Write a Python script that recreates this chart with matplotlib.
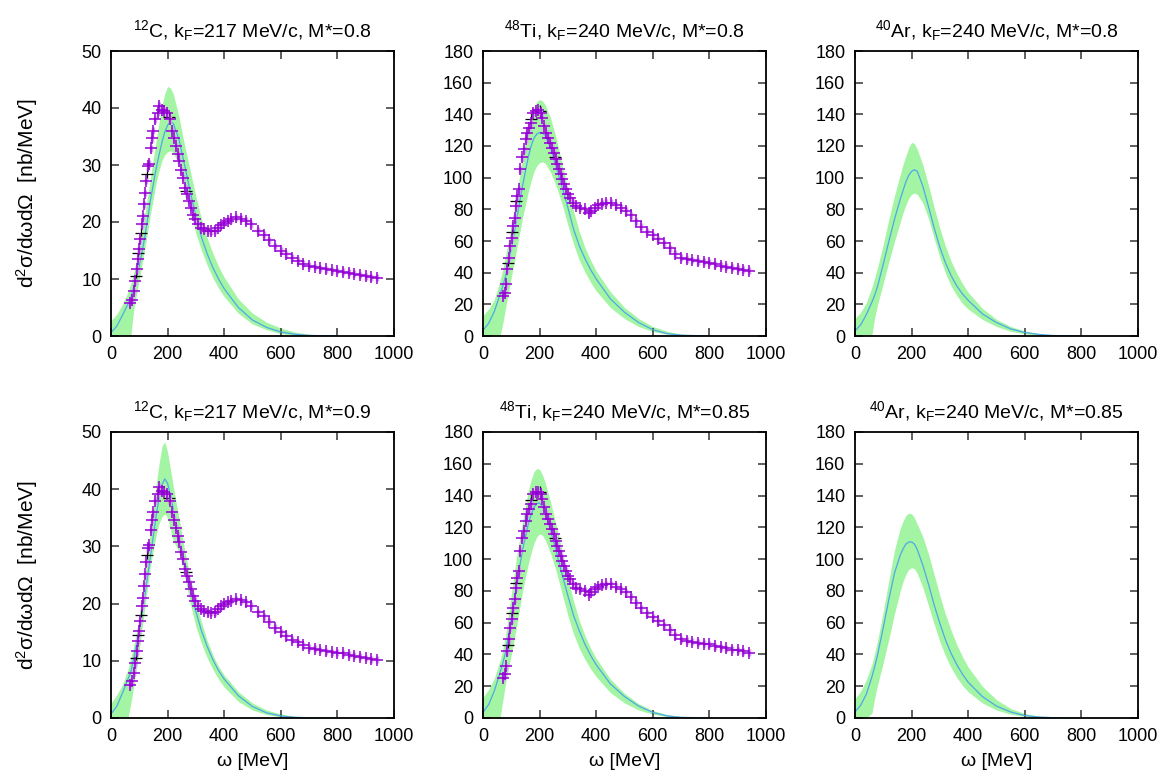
import matplotlib
matplotlib.use('Agg')
import matplotlib.pyplot as plt
import numpy as np

plt.rcParams['font.family'] = ['Liberation Sans', 'DejaVu Sans']
plt.rcParams['mathtext.fontset'] = 'custom'
plt.rcParams['mathtext.rm'] = 'Liberation Sans'
plt.rcParams['mathtext.it'] = 'Liberation Sans:italic'

# theory grid (MeV)
w_th = [0, 20, 40, 60, 70, 80, 100, 120, 140, 160, 170, 180, 190, 200, 210, 220, 240,
        260, 280, 300, 320, 340, 360, 380, 400, 450, 500, 550, 600, 650, 700, 800]

# 12C, M*=0.8
c08_mid = [0.6, 1.7, 3.6, 5.6, 6.7, 8.5, 12.3, 17.5, 24, 29.5, 31.8, 34, 35.8, 37, 37.5, 37.3, 34.5,
           30, 25.3, 21, 17.3, 14.4, 12, 10, 8.3, 5, 2.8, 1.5, 0.7, 0.3, 0.1, 0]
c08_hi = [2.7, 3.8, 5.5, 7.7, 9.2, 11, 15.5, 21.5, 28, 34.5, 37.5, 40.5, 42.5, 43.8, 43.5, 42.5, 38.5,
          33.5, 29, 24.5, 20.5, 17.2, 14.5, 12.2, 10.3, 6.5, 4, 2.4, 1.4, 0.7, 0.3, 0]
c08_lo = [0, 0, 0, 0, 0, 4.5, 10, 15.5, 21.5, 27, 29, 30.8, 31.8, 32.3, 32.5, 32.2, 30,
          26, 22.5, 18, 15, 12.4, 10.2, 8.4, 6.9, 4, 2.1, 1.1, 0.4, 0.15, 0.05, 0]

# 12C, M*=0.9
c09_mid = [0.7, 2.0, 4.3, 6.8, 8, 10.3, 15.3, 21.5, 28.5, 35.5, 38.5, 40.8, 41.8, 41, 39, 36.5, 31.5,
           26.8, 22.5, 18.6, 15.2, 12.5, 10.2, 8.3, 6.8, 3.9, 2.0, 0.9, 0.35, 0.12, 0.04, 0]
c09_hi = [2.6, 4, 5.8, 8.5, 10.5, 12.5, 17.5, 25, 33, 41, 44.5, 47.5, 48.3, 46.5, 43.5, 40.5, 35,
          29.5, 24.5, 20.5, 16.7, 13.5, 11, 9, 7.5, 4.6, 2.6, 1.4, 0.7, 0.3, 0.1, 0]
c09_lo = [0, 0, 0, 0, 2.5, 5.5, 12, 19.5, 26.8, 32, 34, 35.2, 35.7, 35, 33, 31, 29,
          25, 20, 16, 13, 10.5, 8.5, 6.8, 5.4, 2.9, 1.4, 0.6, 0.2, 0.05, 0, 0]

# 48Ti, M*=0.8
ti08_mid = [3.6, 8, 15.5, 26, 31.5, 38, 55, 75, 95, 113, 120, 125, 127.5, 128.5, 128.3, 126.5, 118,
            106, 94, 81, 67.5, 57, 49, 42, 36, 23.5, 15, 8.5, 4, 1.5, 0.5, 0]
ti08_hi = [13, 17, 23, 35, 42, 51, 70, 91, 112, 132, 139, 144.5, 148, 149.3, 148.5, 146, 137,
           124, 108, 93, 79, 66, 56, 48, 41, 28, 18, 11, 6, 3, 1.2, 0]
ti08_lo = [0, 0, 0, 0, 8, 18, 37, 56, 75, 91, 98, 104, 107.5, 109.5, 110, 109, 103,
           94, 83, 70, 58, 48, 40.5, 34, 28.5, 18, 11, 6, 2.8, 1.2, 0.4, 0]

# 48Ti, M*=0.85
ti085_mid = [3.5, 8.5, 17, 28.5, 34.5, 41.5, 62, 85, 106, 122, 128, 132.5, 135, 135.3, 133, 129, 117.5,
             104, 90, 77, 64.5, 55, 46.5, 39.5, 33.5, 21.5, 13.5, 7.5, 3.5, 1.3, 0.4, 0]
ti085_hi = [13, 18, 25, 36, 43, 52, 78, 103, 124, 143, 150, 155, 157, 156.5, 153, 148, 135,
            120.5, 104.5, 88, 73.5, 61.5, 52, 44, 37.5, 24.5, 15.5, 9, 4.7, 2.2, 0.9, 0]
ti085_lo = [0, 0, 0, 0, 11, 22, 40, 59, 80, 97, 104, 110, 114, 115.8, 115, 112, 103,
            91.5, 78, 64.5, 53, 44, 37, 31, 26, 16, 9.5, 5, 2.4, 1, 0.3, 0]

# 40Ar, M*=0.8
ar08_mid = [3.2, 7, 13.5, 21.5, 26, 31.5, 45.5, 60, 74, 86.5, 92, 97.5, 101.5, 104, 105, 104, 94.5,
            81.5, 68, 56, 46, 38, 31.5, 26.5, 22.5, 14, 8.5, 4.5, 2.2, 1, 0.3, 0]
ar08_hi = [11, 15, 21, 31, 37, 43.5, 58, 74, 89, 102, 108.5, 114, 119, 122.3, 121.5, 118, 108,
           95, 81, 68, 56.5, 47, 39.5, 33, 27.5, 17.5, 10.5, 6, 3.2, 1.5, 0.6, 0]
ar08_lo = [0, 0, 0, 1, 12, 20, 33.5, 47, 60, 72, 78, 83, 87, 89.5, 90.3, 89.5, 84,
           74, 61.5, 49.5, 39.5, 31.5, 25.5, 20.5, 17, 10.5, 6, 3, 1.3, 0.5, 0.1, 0]

# 40Ar, M*=0.85
ar085_mid = [3.8, 8, 15, 26, 32.5, 40, 57, 75, 91.5, 102.5, 106.5, 109.5, 110.7, 110.8, 109.5, 106, 96,
             84, 71, 59.5, 49, 40.5, 33.5, 27.5, 22.5, 13.5, 7.5, 3.8, 1.5, 0.6, 0.2, 0]
ar085_hi = [12, 17, 24, 34, 41, 49, 67, 87, 106, 119.5, 124, 127.5, 129, 128.5, 126, 122, 114,
            103, 90, 77, 65, 55, 46, 38.5, 32, 20, 11.5, 6, 2.8, 1.2, 0.4, 0]
ar085_lo = [0, 0, 0, 3, 13, 21, 35, 50, 66, 80, 86, 90.5, 93.5, 94.6, 94, 91, 82,
            70.5, 59, 48, 39, 31.5, 25.5, 20.5, 16.5, 9.5, 5, 2.4, 1, 0.3, 0.1, 0]

# experimental data 12C
c_w = [68, 73, 80, 85, 91, 94, 100, 104, 110, 112, 116, 120, 125, 132, 136, 141, 144, 150, 157, 165,
       171, 179, 189, 198, 210, 216, 224, 230, 236, 242, 248, 254, 262, 269, 275, 283, 289, 297, 307,
       318, 330, 342, 354, 366, 377, 389, 401, 413, 425, 442, 460, 478, 495, 520, 540, 560, 580, 600,
       620, 640, 660, 680, 700, 720, 740, 760, 780, 800, 820, 840, 860, 880, 900, 920, 940]
c_y = [5.8, 6.4, 7.9, 9.6, 11.7, 13.5, 15.2, 17, 19.6, 21, 23.1, 25.1, 27.2, 29.8, 30.2, 32.9, 34.7, 36,
       38, 39.2, 40.4, 39.6, 39.5, 39.2, 38, 36, 34.7, 33.3, 31.9, 30.7, 29.1, 27.8, 26, 24.9, 23.7, 22.5,
       21.3, 20.5, 19.6, 19, 18.7, 18.5, 18.4, 18.5, 19, 19.5, 19.9, 20.2, 20.5, 20.8, 20.6, 20.2, 19.6,
       18.5, 17.8, 16.8, 15.8, 15, 14.3, 13.7, 13.2, 12.7, 12.3, 12.1, 11.9, 11.7, 11.5, 11.4, 11.3, 11.1,
       10.9, 10.7, 10.5, 10.3, 10.2]
c_err = 0.6
c_bw = [88, 97, 107, 128, 205, 265]
c_by = [10.5, 14.5, 18, 28.5, 38.5, 25.5]

# experimental data 48Ti
ti_w = [71, 77, 82, 86, 92, 97, 101, 106, 112, 115, 121, 126, 130, 139, 145, 151, 157, 163, 171, 177,
        186, 194, 204, 210, 216, 224, 230, 236, 244, 250, 257, 263, 269, 274, 280, 286, 292, 300, 309,
        318, 330, 344, 359, 375, 383, 395, 406, 422, 436, 453, 471, 489, 506, 524, 540, 560, 580, 600,
        620, 640, 660, 680, 700, 720, 740, 760, 780, 800, 820, 840, 860, 880, 900, 920, 940]
ti_y = [25.3, 27.4, 32.6, 42.1, 49.5, 56.8, 62.1, 69.5, 74.7, 82.1, 88.4, 92.6, 105.3, 113, 117.9, 124.2,
        128.4, 131.6, 134.7, 141, 142.1, 142.5, 141, 137.9, 132.6, 128.4, 125.3, 122.1, 118.9, 115.8,
        111.6, 108.4, 105.3, 102.1, 98.9, 95.8, 92.6, 89.5, 87.4, 84.2, 82.1, 81.1, 80, 77.5, 79, 81.1,
        82.5, 83.6, 84.2, 84.2, 82.7, 81, 79, 76.4, 72.5, 69, 66, 63.5, 61, 58.5, 55.5, 52, 49.5, 48.5,
        48, 47.3, 46.8, 46.3, 45.3, 44.5, 43.8, 43, 42.6, 42, 41.2]
ti_err = 2.2
ti_bw = [89, 103, 118, 168, 200, 255]
ti_by = [46, 66, 85, 137, 142, 113]

panels = [
    (r'$^{12}$C, k$_{\rm F}$=217 MeV/c, M*=0.8', c08_lo, c08_mid, c08_hi, 'C', 50, 10),
    (r'$^{48}$Ti, k$_{\rm F}$=240 MeV/c, M*=0.8', ti08_lo, ti08_mid, ti08_hi, 'Ti', 180, 20),
    (r'$^{40}$Ar, k$_{\rm F}$=240 MeV/c, M*=0.8', ar08_lo, ar08_mid, ar08_hi, None, 180, 20),
    (r'$^{12}$C, k$_{\rm F}$=217 MeV/c, M*=0.9', c09_lo, c09_mid, c09_hi, 'C', 50, 10),
    (r'$^{48}$Ti, k$_{\rm F}$=240 MeV/c, M*=0.85', ti085_lo, ti085_mid, ti085_hi, 'Ti', 180, 20),
    (r'$^{40}$Ar, k$_{\rm F}$=240 MeV/c, M*=0.85', ar085_lo, ar085_mid, ar085_hi, None, 180, 20),
]
exp = {'C': (c_w, c_y, c_err, c_bw, c_by), 'Ti': (ti_w, ti_y, ti_err, ti_bw, ti_by)}

W, H = 1171, 778
fig = plt.figure(figsize=(W / 100, H / 100), dpi=100)
lefts = [111, 483, 855]
rows = [(51, 336), (432, 718)]

for i, (title, lo, mid, hi, nuc, ymax, ystep) in enumerate(panels):
    r, c = divmod(i, 3)
    top, bot = rows[r]
    ax = fig.add_axes([lefts[c] / W, 1 - bot / H, 283 / W, (bot - top) / H])
    ax.fill_between(w_th, lo, hi, color='#a3f5a3', lw=0)
    ax.plot(w_th, mid, color='#4fa8e8', lw=0.9)
    if nuc:
        w, y, err, bw, by = exp[nuc]
        ax.plot(bw, by, '+', color='black', ms=8, mew=0.9)
        ax.errorbar(w, y, yerr=err, fmt='+', color='#9400d3', ecolor='#d2a0ee',
                    elinewidth=2.5, ms=9, mew=1.1, capsize=0)
    ax.set_xlim(0, 1000)
    ax.set_ylim(0, ymax)
    ax.set_xticks(np.arange(0, 1001, 200))
    ax.set_yticks(np.arange(0, ymax + 1, ystep))
    ax.tick_params(direction='in', top=True, right=True, length=6, width=1.2,
                   color='#444444', labelsize=13, pad=7)
    for s in ax.spines.values():
        s.set_linewidth(1.3)
    ax.set_title(title, fontsize=14, pad=10)
    if c == 0:
        ax.set_ylabel(r'd$^2$σ/dωdΩ  [nb/MeV]', fontsize=15)
        ax.yaxis.set_label_coords(-0.25, 0.5)
    if r == 1:
        ax.set_xlabel('ω [MeV]', fontsize=14, labelpad=6)

fig.savefig('out.png', dpi=100)
